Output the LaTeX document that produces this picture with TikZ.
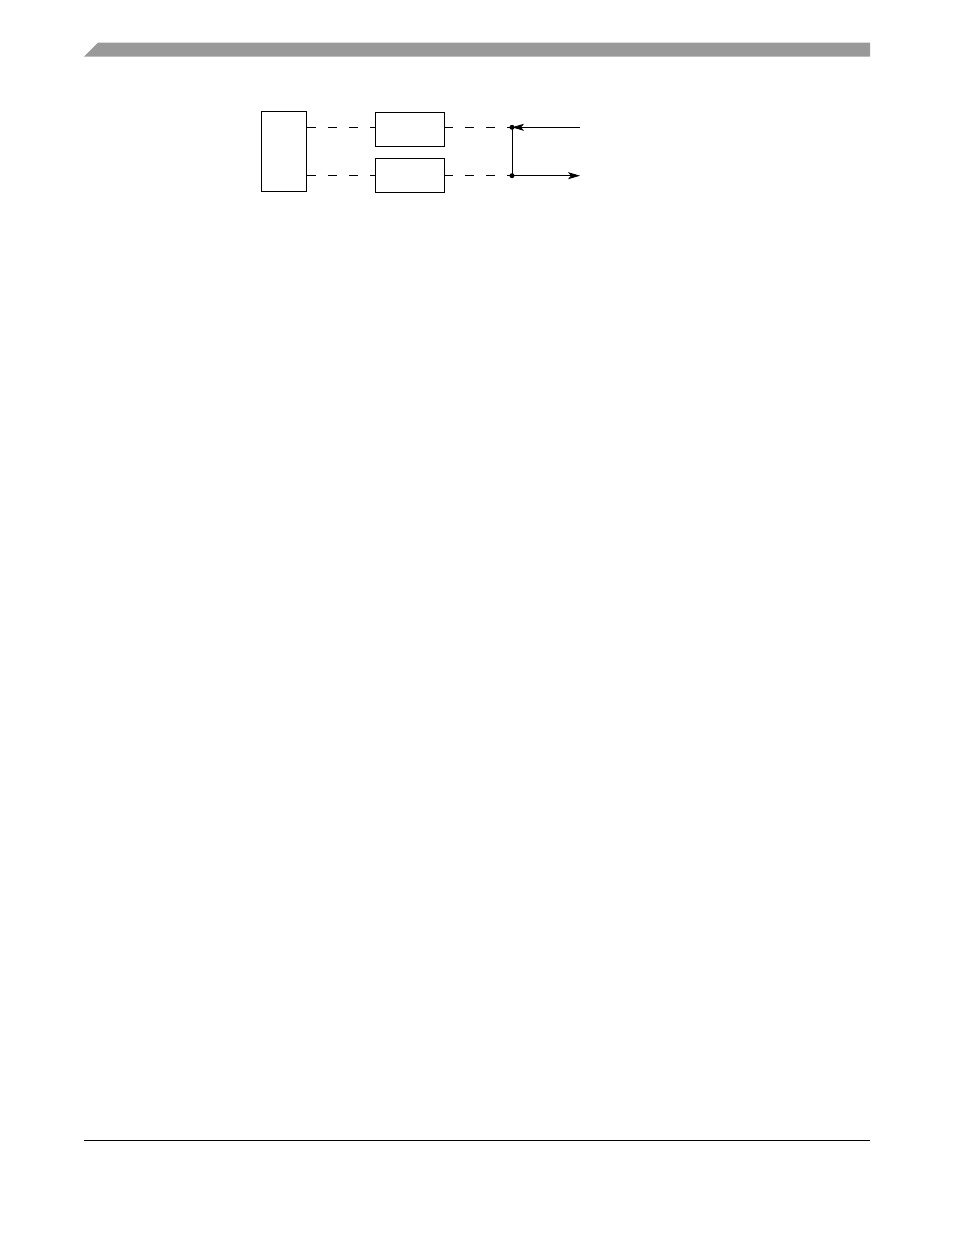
\documentclass[tikz,border=0pt]{standalone}
\usetikzlibrary{arrows.meta}
\begin{document}
\begin{tikzpicture}[x=1pt,y=-1pt,
  box/.style={draw,line width=0.8pt,inner sep=0pt,anchor=north west},
  dashline/.style={line width=0.8pt,dash pattern=on 9pt off 12pt},
  wire/.style={line width=0.8pt},
  arr/.style={wire,-{Stealth[length=12pt,width=7pt,inset=3pt]}},
  dot/.style={circle,fill,inner sep=0pt,minimum size=5pt}]
\useasboundingbox (0,0) rectangle (954,1235);
% header bar
\fill[fill={rgb,255:red,153;green,153;blue,153}] (84,56.5) -- (98,42.5) -- (870,42.5) -- (870,56.5) -- cycle;
% footer rule
\draw[line width=1pt] (84,1140.5) -- (870,1140.5);
% boxes
\node[box,minimum width=45.5pt,minimum height=80pt] (L) at (260.5,111) {};
\node[box,minimum width=69pt,minimum height=34pt] (T) at (374.5,111.5) {};
\node[box,minimum width=69pt,minimum height=34pt] (B) at (374.5,157.5) {};
% junction coordinates
\coordinate (J1) at (512,127.3);
\coordinate (J2) at (512,175.7);
\coordinate (E1) at (580,127.3);
\coordinate (E2) at (580,175.7);
% dashed links
\draw[dashline] (L.east |- J1) -- (T.west |- J1);
\draw[dashline] (T.east |- J1) -- (J1);
\draw[dashline] (L.east |- J2) -- (B.west |- J2);
\draw[dashline] (B.east |- J2) -- (J2);
% vertical and arrows
\draw[wire] (J1) -- (J2);
\draw[arr] (E1) -- (J1);
\draw[arr] (J2) -- (E2);
\node[dot] (D1) at (J1) {};
\node[dot] (D2) at (J2) {};
\end{tikzpicture}
\end{document}
